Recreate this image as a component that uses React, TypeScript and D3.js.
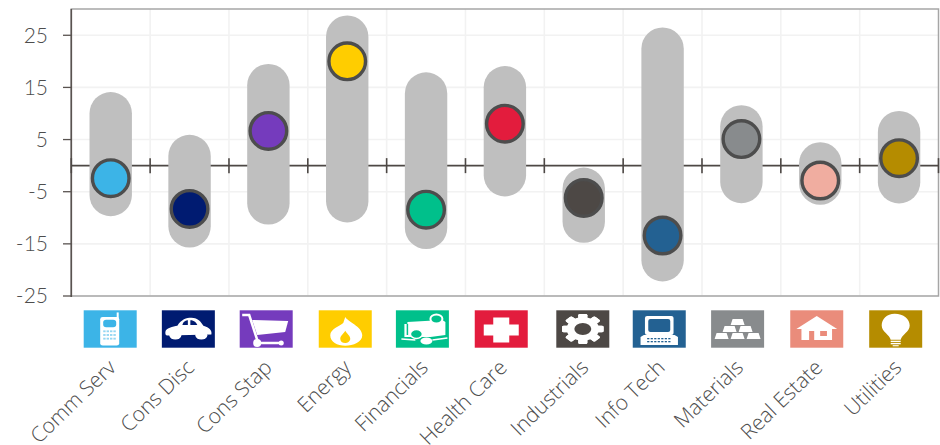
import React from "react";
import * as d3 from "d3";

const categories = ["Comm Serv","Cons Disc","Cons Stap","Energy","Financials","Health Care","Industrials","Info Tech","Materials","Real Estate","Utilities"];
const highs = [14.1,5.9,19.5,28.8,17.9,19.1,-0.36,26.5,11.6,4.5,10.5];
const lows = [-9.7,-15.7,-11.3,-10.9,-16,-5.9,-14.8,-22.2,-7.2,-7.5,-7.25];
const current = [-2.4,-8.3,6.65,20,-8.45,8.05,-6.2,-13.4,5.1,-2.85,1.43];
const colors = ["#3CB4E7","#001B71","#753BBD","#FFCD00","#00C08B","#E31C3D","#4D4845","#236192","#888B8D","#F0ADA0","#B58C00"];
const iconColors = ["#3CB4E7","#001B71","#753BBD","#FFCD00","#00C08B","#E31C3D","#4D4845","#236192","#888B8D","#EA8C7B","#B58C00"];
const iconNudge = [0,-0.4,-1.1,-0.6,-2,-1.7,1.3,-0.8,-1,-0.4,0];
const yTicks = [25,15,5,-5,-15,-25];

function Icon({ kind }: { kind: number }) {
  const w = "#fff";
  switch (kind) {
    case 0: return <g fill={w} transform="scale(1,0.92)"><rect x={-10} y={-13} width={19} height={31} rx={2.5} /><rect x={6.5} y={-18} width={2} height={7} /><rect x={-7} y={-10} width={13} height={8} rx={3} fill={iconColors[0]} />{[0,1,2].map(r=>[0,1,2,3].map(c=><rect key={`${r}${c}`} x={-7+c*3.4} y={1.5+r*4} width={2.4} height={2} fill={iconColors[0]} opacity={0.55} />))}</g>;
    case 1: return <g fill={w} transform="scale(1,0.8)"><path d="M-23 4C-23-1-15-3-11-4-7-12-2-14 3-14 10-14 13-8 15-4 21-2 24 2 23 7L-21 8C-23 8-23 6-23 4Z" /><ellipse cx={-13} cy={8} rx={6} ry={5} /><ellipse cx={13} cy={8} rx={6} ry={5} /><path d="M-6-5C-5-10-2-11-0.5-11L-0.5-5ZM2-11C6-11 8-8 9-5L2-5Z" fill={iconColors[1]} /></g>;
    case 2: return <g><path d="M-24-14L-17-14-8 14 17 14" fill="none" stroke={w} strokeWidth={2.5} /><path d="M-14-9L22-8 19 3-9 6Z" fill={w} /><circle cx={-9} cy={14} r={4} fill={w} /><circle cx={15} cy={14} r={2.5} fill={w} /></g>;
    case 3: return <g transform="translate(0,1) scale(1,0.87)"><path d="M0-15C2-10 17-4 17 6 17 14 8 18 0 18-8 18-15 14-15 6-15-1-6-4-2-8Z" fill={w} /><path d="M0 1C2 5 5 7 5 10 5 13 2 15 0 15-3 15-5 13-5 10-5 7-2 5 0 1Z" fill={iconColors[3]} /></g>;
    case 4: return <g><path d="M-18 -5L-15 -5 -15 -7 20 -9 23 -7 23 6 8 8 -12 8 -18 8Z" fill={w} /><path d="M-15 -5L-15 6" stroke={iconColors[4]} strokeWidth={1.5} fill="none" /><ellipse cx={14} cy={-10} rx={6} ry={4.5} fill={iconColors[4]} stroke={w} strokeWidth={2} /><ellipse cx={-6} cy={5} rx={6} ry={4.5} fill={iconColors[4]} stroke={w} strokeWidth={1.5} /><ellipse cx={4} cy={12} rx={6} ry={3.5} fill={w} /><path d="M-21 10L-7 11M10 11L25 9" fill="none" stroke={w} strokeWidth={1.5} /></g>;
    case 5: return <path d="M-8-11.5H8V-4.5H17.5V6.5H8V13.5H-8V6.5H-17.5V-4.5H-8Z" fill={w} />;
    case 6: return <g transform="scale(1.3,0.94)"><g fill={w}>{d3.range(8).map(i=><rect key={i} x={-3.5} y={-16} width={7} height={32} rx={1.5} transform={`rotate(${i*45})`} />)}<circle r={12.5} /></g><circle r={6.5} fill={iconColors[6]} /></g>;
    case 7: return <g fill={w} transform="scale(1.1,1)"><rect x={-13} y={-13} width={26} height={19} rx={2} /><rect x={-10} y={-10} width={20} height={13} rx={2} fill={iconColors[7]} /><path d="M-17 8L-14 6 14 6 17 8 17 16-17 16Z" />{[0,1].map(r=>d3.range(7).map(c=><rect key={`${r}${c}`} x={-11+c*3.2} y={9+r*3} width={2} height={1.3} fill={iconColors[7]} />))}</g>;
    case 8: return <g fill={w} transform="translate(0,1)">{[[0,-8],[-8,-1],[8,-1],[-16,6],[0,6],[16,6]].map(([x,y],i)=><path key={i} d={`M${x-5} ${y-3}H${x+5}L${x+7} ${y+3}H${x-7}Z`} />)}</g>;
    case 9: return <g transform="scale(0.85,1)"><path d="M0-13L24 0 18 0 18 11-18 11-18 0-24 0Z" fill={w} /><rect x={-9} y={2} width={6} height={9} fill={iconColors[9]} /><rect x={4} y={2} width={8} height={5} fill={iconColors[9]} /></g>;
    default: return <g fill={w} transform="scale(1,0.9)"><path d="M-1-17C8-17 14-11 14-4 14 3 6 6 5 12L-5 12C-6 6-14 3-14-4-14-11-9-17-1-17Z" /><rect x={-5} y={13} width={10} height={1.5} /><rect x={-5} y={15.5} width={10} height={1.5} /><rect x={-3} y={18} width={6} height={1.2} /></g>;
  }
}

export default function App() {
  const width = 940, height = 445;
  const left = 71.3, right = 938.5, top = 9, bottom = 296;
  const x = d3.scaleBand<string>().domain(categories).range([left, right]).padding(0);
  const y = d3.scaleLinear().domain([-25, 30]).range([bottom, top + 0.2]);
  const iconX = d3.scalePoint<string>().domain(categories).range([110.2, 895.7]);
  const bw = 42.4;
  const r = 18.3;
  const bandEdges = d3.range(categories.length + 1).map(i => left + i * x.step());
  return (
    <svg width={width} height={height} style={{ position: "absolute", left: 0, top: 0, background: "#fff" }}>
      {yTicks.map(t => <line key={t} x1={left} x2={right} y1={y(t)} y2={y(t)} stroke="#F2F2F2" strokeWidth={1.6} />)}
      {bandEdges.slice(1, -1).map((e, i) => <line key={i} x1={e} x2={e} y1={top} y2={bottom} stroke="#F2F2F2" strokeWidth={1.6} />)}
      <rect x={left} y={top} width={right - left} height={bottom - top} fill="none" stroke="#A6A6A6" strokeWidth={1.5} />
      <line x1={left} x2={left} y1={top} y2={bottom + 1} stroke="#595350" strokeWidth={1.6} />
      <line x1={left} x2={right} y1={y(0)} y2={y(0)} stroke="#4D4845" strokeWidth={1.6} />
      {bandEdges.map((e, i) => <line key={i} x1={e} x2={e} y1={y(0) - 7.5} y2={y(0) + 7.5} stroke="#4D4845" strokeWidth={1.6} />)}
      {yTicks.map(t => (
        <g key={t}>
          <line x1={63} x2={left} y1={y(t)} y2={y(t)} stroke="#595350" strokeWidth={1.3} />
          <text x={48} y={y(t)} dy="0.35em" textAnchor="end" fontFamily="Lato, sans-serif" fontSize={21} fontWeight={300} fill="#4D4D4D">{t}</text>
        </g>
      ))}
      {categories.map((c, i) => {
        const cx = x(c)! + x.bandwidth() / 2;
        const ix = iconX(c)! + iconNudge[i];
        return (
          <g key={c}>
            <rect x={cx - bw / 2} y={y(highs[i])} width={bw} height={y(lows[i]) - y(highs[i])} rx={bw / 2} fill="#BFBFBF" />
            <circle cx={cx} cy={y(current[i])} r={r} fill={colors[i]} stroke="#4D4D4D" strokeWidth={3.4} />
            <g transform={`translate(${ix},${329})`}>
              <rect x={-26.5} y={-18.7} width={53} height={37.4} fill={iconColors[i]} />
              <Icon kind={i} />
            </g>
            <text transform={`translate(${ix + 7},${369}) rotate(-44)`} textAnchor="end" fontFamily="'Open Sans', sans-serif" fontSize={21} fontWeight={300} fill="#4D4D4D">{c}</text>
          </g>
        );
      })}
    </svg>
  );
}
